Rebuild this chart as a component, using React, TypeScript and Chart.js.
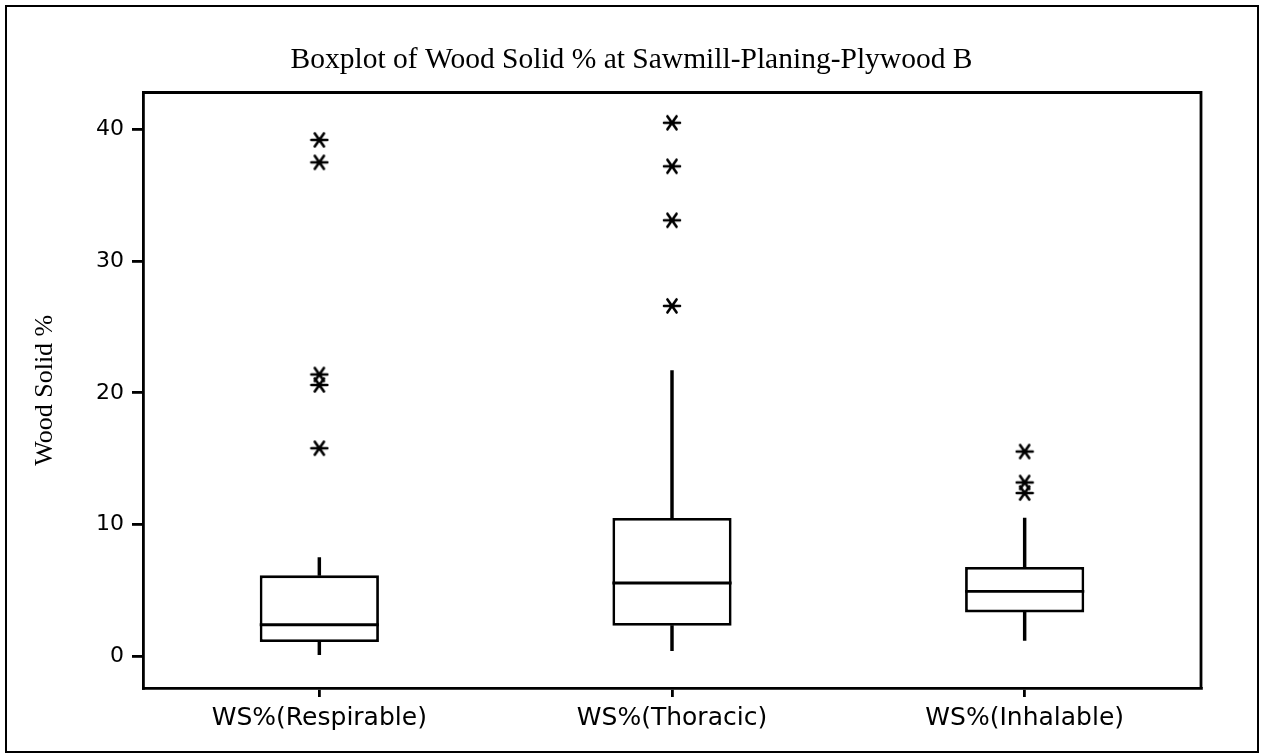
import { useEffect, useRef } from 'react';
import { Chart, registerables } from 'chart.js';

Chart.register(...registerables);

// Box-plot summary per fraction
const categories = ['WS%(Respirable)', 'WS%(Thoracic)', 'WS%(Inhalable)'];
const whiskerLow = [0.13, 0.43, 1.21];
const q1 = [1.09, 2.33, 3.34];
const median = [2.4, 5.57, 4.93];
const q3 = [6.15, 10.5, 6.78];
const whiskerHigh = [7.5, 21.7, 10.5];

// Outliers (plotted as asterisks)
const outliersRespirable = [39.2, 37.5, 21.4, 20.6, 15.8];
const outliersThoracic = [40.5, 37.2, 33.1, 26.6];
const outliersInhalable = [15.55, 13.2, 12.4];

const yTicks = [0, 10, 20, 30, 40];
const yMin = -2.4;
const yMax = 42.8;

const chartTitle = 'Boxplot of Wood Solid % at Sawmill-Planing-Plywood B';
const yTitle = 'Wood Solid %';

function makeAsterisk(): HTMLCanvasElement {
  const c = document.createElement('canvas');
  c.width = 20;
  c.height = 18;
  const g = c.getContext('2d')!;
  g.strokeStyle = '#000';
  g.lineWidth = 2.6;
  g.lineCap = 'round';
  const cx = 10;
  const cy = 9;
  const r = 8;
  const angles = [0, (55 * Math.PI) / 180, (125 * Math.PI) / 180];
  g.beginPath();
  for (const a of angles) {
    const dx = r * Math.cos(a);
    const dy = r * Math.sin(a);
    g.moveTo(cx - dx, cy - dy);
    g.lineTo(cx + dx, cy + dy);
  }
  g.stroke();
  return c;
}

const INK = '#000';
const LINE = 2.8;

const boxDecorations = {
  id: 'boxDecorations',
  afterDatasetsDraw(chart: any) {
    const ctx = chart.ctx;
    const yScale = chart.scales.y;
    const meta = chart.getDatasetMeta(2);
    ctx.save();
    ctx.strokeStyle = INK;
    ctx.lineWidth = LINE;
    meta.data.forEach((bar: any, i: number) => {
      const half = bar.width / 2;
      const y = yScale.getPixelForValue(median[i]);
      ctx.beginPath();
      ctx.moveTo(bar.x - half, y);
      ctx.lineTo(bar.x + half, y);
      ctx.stroke();
    });
    ctx.restore();
  },
  afterDraw(chart: any) {
    const ctx = chart.ctx;
    const a = chart.chartArea;
    ctx.save();
    ctx.strokeStyle = INK;
    ctx.lineWidth = LINE;
    // top and right edges of the plot frame
    ctx.beginPath();
    ctx.moveTo(a.left, a.top);
    ctx.lineTo(a.right, a.top);
    ctx.lineTo(a.right, a.bottom);
    ctx.stroke();
    // outer frame
    ctx.lineWidth = 2;
    ctx.strokeRect(6, 6, chart.width - 11, chart.height - 9);
    // title
    ctx.fillStyle = INK;
    ctx.font = '29.5px "Liberation Serif", "Times New Roman", serif';
    ctx.textAlign = 'center';
    ctx.textBaseline = 'alphabetic';
    ctx.fillText(chartTitle, chart.width / 2, 68);
    ctx.restore();
  },
};

export default function App() {
  const ref = useRef<HTMLCanvasElement | null>(null);

  useEffect(() => {
    if (!ref.current) return;
    const star = makeAsterisk();
    const outlierPoints = [
      ...outliersRespirable.map((v) => ({ x: categories[0], y: v })),
      ...outliersThoracic.map((v) => ({ x: categories[1], y: v })),
      ...outliersInhalable.map((v) => ({ x: categories[2], y: v })),
    ];

    const chart = new Chart(ref.current, {
      type: 'bar',
      data: {
        labels: categories,
        datasets: [
          {
            label: 'lower whisker',
            data: categories.map((_, i) => [whiskerLow[i], q1[i]]),
            backgroundColor: INK,
            borderWidth: 0,
            barThickness: LINE,
            grouped: false,
            order: 3,
          } as any,
          {
            label: 'upper whisker',
            data: categories.map((_, i) => [q3[i], whiskerHigh[i]]),
            backgroundColor: INK,
            borderWidth: 0,
            barThickness: LINE,
            grouped: false,
            order: 3,
          } as any,
          {
            label: 'IQR box',
            data: categories.map((_, i) => [q1[i], q3[i]]),
            backgroundColor: '#fff',
            borderColor: INK,
            borderWidth: LINE,
            borderSkipped: false,
            barPercentage: 0.338,
            categoryPercentage: 1,
            grouped: false,
            order: 2,
          } as any,
          {
            type: 'line',
            label: 'outliers',
            data: outlierPoints,
            showLine: false,
            pointStyle: star,
            pointRadius: 8,
            order: 1,
          } as any,
        ],
      },
      options: {
        responsive: false,
        animation: false,
        events: [],
        layout: { padding: { top: 92.5, right: 62, bottom: 0, left: 0 } },
        plugins: {
          legend: { display: false },
          tooltip: { enabled: false },
          title: { display: false },
        },
        scales: {
          x: {
            type: 'category',
            offset: true,
            grid: {
              offset: false,
              drawOnChartArea: false,
              drawTicks: true,
              tickLength: 9,
              color: INK,
              lineWidth: LINE,
            },
            border: { color: INK, width: LINE },
            ticks: {
              color: INK,
              padding: 6,
              maxRotation: 0,
              font: { family: '"DejaVu Sans", Verdana, sans-serif', size: 25 },
            },
            afterFit: (s: any) => {
              s.height = 67;
            },
          },
          y: {
            type: 'linear',
            min: yMin,
            max: yMax,
            afterBuildTicks: (s: any) => {
              s.ticks = yTicks.map((v) => ({ value: v }));
            },
            grid: {
              drawOnChartArea: false,
              drawTicks: true,
              tickLength: 11,
              color: INK,
              lineWidth: LINE,
            },
            border: { color: INK, width: LINE },
            ticks: {
              color: INK,
              padding: 8,
              font: { family: '"DejaVu Sans", Verdana, sans-serif', size: 22 },
            },
            title: {
              display: true,
              text: yTitle,
              color: INK,
              padding: { top: 30, bottom: 0 },
              font: { family: '"Liberation Serif", "Times New Roman", serif', size: 26 },
            },
            afterFit: (s: any) => {
              s.width = 143;
            },
          },
        },
      },
      plugins: [boxDecorations],
    });

    return () => chart.destroy();
  }, []);

  return (
    <div style={{ position: 'fixed', left: 0, top: 0, width: 1263, height: 755, background: '#fff' }}>
      <canvas ref={ref} width={1263} height={755} />
    </div>
  );
}
